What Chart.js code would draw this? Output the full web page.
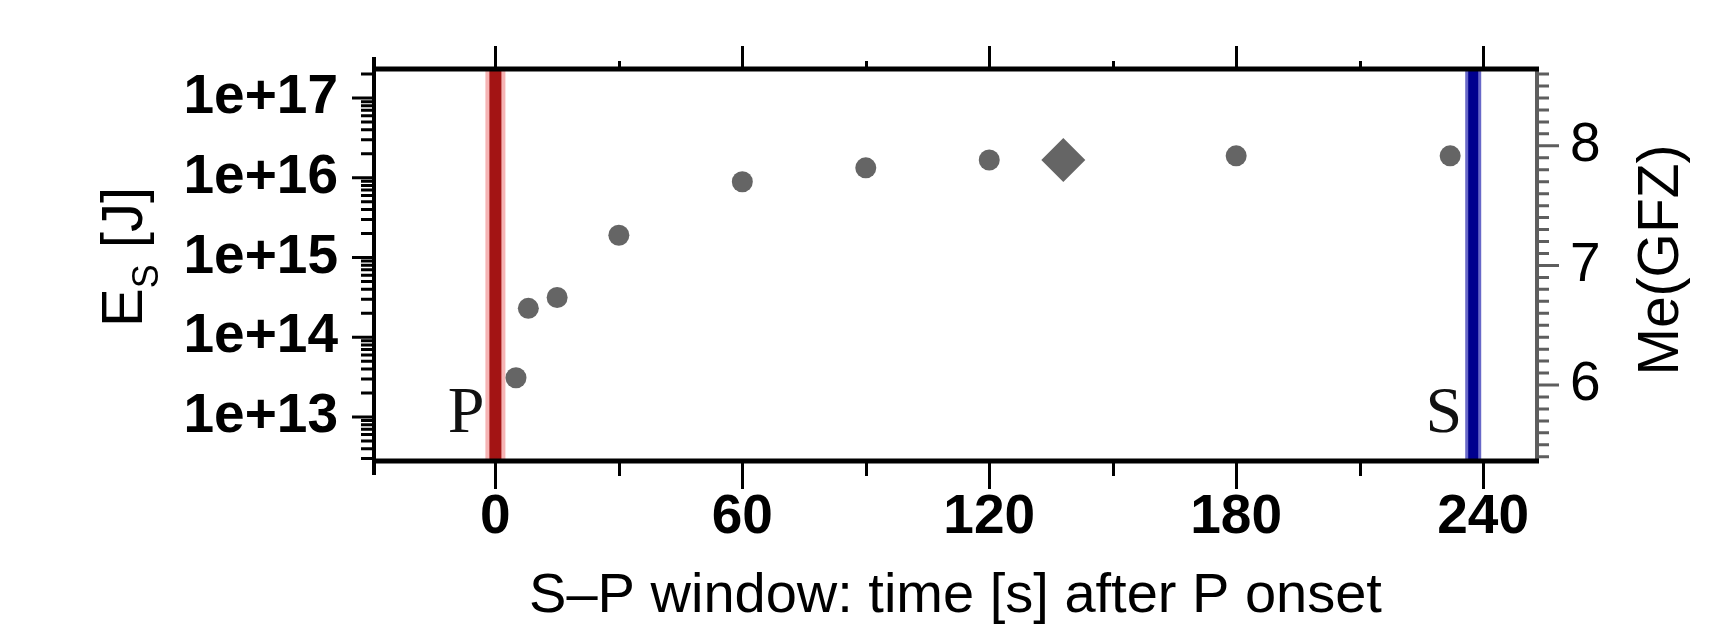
<!DOCTYPE html>
<html>
<head>
<meta charset="utf-8">
<script src="https://cdn.jsdelivr.net/npm/chart.js@4/dist/chart.umd.min.js"></script>
<style>
html,body{margin:0;padding:0;background:#fff;}
#wrap{width:1711px;height:627px;}
</style>
</head>
<body>
<div id="wrap"><canvas id="c" width="1711" height="627"></canvas></div>
<script>
// ---- data ----
const windowTimes = [5, 8, 15, 30, 60, 90, 120, 180, 232];          // s after P onset
const energyValues = [3.1e13, 2.3e14, 3.15e14, 1.9e15, 8.9e15, 1.33e16, 1.67e16, 1.88e16, 1.88e16]; // Es [J]
const finalTime = [138];
const finalEnergy = [1.67e16];
const pOnset = 0;        // P arrival
const sArrival = 237.6;  // S arrival
const xTickLabels = [0, 60, 120, 180, 240];
const xMarkValues = [0, 30, 60, 90, 120, 150, 180, 210, 240];
const yTickValues = [1e13, 1e14, 1e15, 1e16, 1e17];
const meTickValues = [6, 7, 8];
const X_MIN = -29.5, X_MAX = 253.1;
const Y_MIN = 2.8e12, Y_MAX = 2.31e17;
const meOf = e => (Math.log10(e) - 4.4) / 1.5;

const SANS = '"Liberation Sans", Arial, Helvetica, sans-serif';
const SERIF = '"Liberation Serif", "Times New Roman", serif';

const vline = (x, color, width) => ({
  type: 'line',
  data: [{x: x, y: Y_MIN}, {x: x, y: Y_MAX}],
  borderColor: color, backgroundColor: color, borderWidth: width,
  pointRadius: 0, pointHoverRadius: 0, fill: false, tension: 0,
  borderCapStyle: 'butt'
});

const decor = {
  id: 'decor',
  afterDatasetsDraw(chart) {
    const {ctx, chartArea: a, scales} = chart;
    const x = scales.x, y = scales.y, y2 = scales.y2;
    ctx.save();
    // P and S labels
    ctx.fillStyle = '#111';
    ctx.font = '66px ' + SERIF;
    ctx.textAlign = 'right';
    ctx.textBaseline = 'alphabetic';
    ctx.fillText('P', x.getPixelForValue(pOnset) - 11, 432);
    ctx.fillText('S', x.getPixelForValue(sArrival) - 11, 432);

    // x tick marks (bottom and top)
    ctx.strokeStyle = '#000';
    ctx.lineWidth = 3;
    ctx.beginPath();
    for (const t of xMarkValues) {
      const px = Math.round(x.getPixelForValue(t)) + 0.5;
      const major = t % 60 === 0;
      ctx.moveTo(px, a.bottom); ctx.lineTo(px, a.bottom + (major ? 28 : 15));
      ctx.moveTo(px, a.top); ctx.lineTo(px, a.top - (major ? 23 : 8));
    }
    ctx.stroke();

    // left log ticks
    ctx.beginPath();
    for (let k = 12; k <= 17; k++) {
      for (let m = 1; m <= 9; m++) {
        const v = m * Math.pow(10, k);
        if (v < Y_MIN || v > Y_MAX) continue;
        const py = y.getPixelForValue(v);
        ctx.moveTo(a.left, py); ctx.lineTo(a.left - (m === 1 ? 22 : 13), py);
      }
    }
    ctx.stroke();

    // right Me ticks (grey)
    ctx.strokeStyle = '#5e5e5e';
    ctx.beginPath();
    for (let i = 54; i <= 86; i++) {
      const py = y2.getPixelForValue(i / 10);
      ctx.moveTo(a.right, py); ctx.lineTo(a.right + (i % 10 === 0 ? 22 : 12), py);
    }
    ctx.stroke();

    // frame
    ctx.strokeStyle = '#5e5e5e';
    ctx.lineWidth = 4;
    ctx.beginPath(); ctx.moveTo(a.right, a.top); ctx.lineTo(a.right, a.bottom); ctx.stroke();
    ctx.strokeStyle = '#000';
    ctx.lineWidth = 5;
    ctx.beginPath();
    ctx.moveTo(a.left, a.top); ctx.lineTo(a.right + 2, a.top);
    ctx.moveTo(a.left, a.bottom); ctx.lineTo(a.right + 2, a.bottom);
    ctx.stroke();
    ctx.lineWidth = 4;
    ctx.beginPath(); ctx.moveTo(a.left, a.top - 12); ctx.lineTo(a.left, a.bottom + 14); ctx.stroke();

    // left axis title  E_S [J]
    ctx.fillStyle = '#000';
    ctx.textAlign = 'left';
    ctx.textBaseline = 'alphabetic';
    ctx.save();
    ctx.translate(142, 327);
    ctx.rotate(-Math.PI / 2);
    ctx.font = '58px ' + SANS;
    ctx.fillText('E', 0, 0);
    let w = ctx.measureText('E').width;
    ctx.font = '36px ' + SANS;
    ctx.fillText('S', w, 16);
    w += ctx.measureText('S').width;
    ctx.font = '58px ' + SANS;
    ctx.fillText(' [J]', w, 0);
    ctx.restore();

    // right axis title
    ctx.save();
    ctx.translate(1678, 260);
    ctx.rotate(-Math.PI / 2);
    ctx.font = '57px ' + SANS;
    ctx.textAlign = 'center';
    ctx.fillText('Me(GFZ)', 0, 0);
    ctx.restore();
    ctx.restore();
  }
};

new Chart(document.getElementById('c'), {
  type: 'scatter',
  data: {
    datasets: [
      {
        label: 'final',
        data: finalTime.map((t, i) => ({x: t, y: finalEnergy[i]})),
        pointStyle: 'rectRot', pointRadius: 22, pointHoverRadius: 22,
        backgroundColor: '#656565', borderColor: '#656565', borderWidth: 0
      },
      {
        label: 'Es',
        data: windowTimes.map((t, i) => ({x: t, y: energyValues[i]})),
        pointStyle: 'circle', pointRadius: 10.5, pointHoverRadius: 10.5,
        backgroundColor: '#656565', borderColor: '#656565', borderWidth: 0
      },
      vline(pOnset, '#a31414', 12),
      vline(sArrival, '#00008e', 10),
      vline(pOnset, '#f6b4b4', 20),
      vline(sArrival, '#6868c8', 16)
    ]
  },
  options: {
    responsive: false,
    devicePixelRatio: 1,
    animation: false,
    events: [],
    layout: {padding: {left: 0, right: 0, top: 55, bottom: 0}},
    plugins: {legend: {display: false}, tooltip: {enabled: false}},
    scales: {
      x: {
        type: 'linear', position: 'bottom', min: X_MIN, max: X_MAX,
        grid: {display: false, drawTicks: false, tickLength: 0},
        border: {display: false},
        afterBuildTicks: s => { s.ticks = xTickLabels.map(v => ({value: v})); },
        afterFit: s => { s.height = 166; },
        ticks: {
          autoSkip: false, maxRotation: 0, minRotation: 0, padding: 24,
          color: '#000', font: {family: SANS, size: 55, weight: 'bold'},
          callback: v => String(v)
        },
        title: {
          display: true, text: 'S\u2013P window: time [s] after P onset',
          color: '#000', font: {family: SANS, size: 56, lineHeight: 1},
          padding: {top: 0, bottom: 2}
        }
      },
      y: {
        type: 'logarithmic', position: 'left', min: Y_MIN, max: Y_MAX,
        grid: {display: false, drawTicks: false, tickLength: 0},
        border: {display: false},
        afterBuildTicks: s => { s.ticks = yTickValues.map(v => ({value: v})); },
        afterFit: s => { s.width = 374; },
        ticks: {
          autoSkip: false, padding: 36, color: '#000',
          font: {family: SANS, size: 55, weight: 'bold'},
          callback: v => '1e+' + Math.round(Math.log10(v))
        }
      },
      y2: {
        type: 'linear', position: 'right', min: meOf(Y_MIN), max: meOf(Y_MAX),
        grid: {display: false, drawTicks: false, tickLength: 0},
        border: {display: false},
        afterBuildTicks: s => { s.ticks = meTickValues.map(v => ({value: v})); },
        afterFit: s => { s.width = 174; },
        ticks: {
          autoSkip: false, padding: 33, color: '#000',
          font: {family: SANS, size: 55},
          callback: v => String(v)
        }
      }
    }
  },
  plugins: [decor]
});
</script>
</body>
</html>
